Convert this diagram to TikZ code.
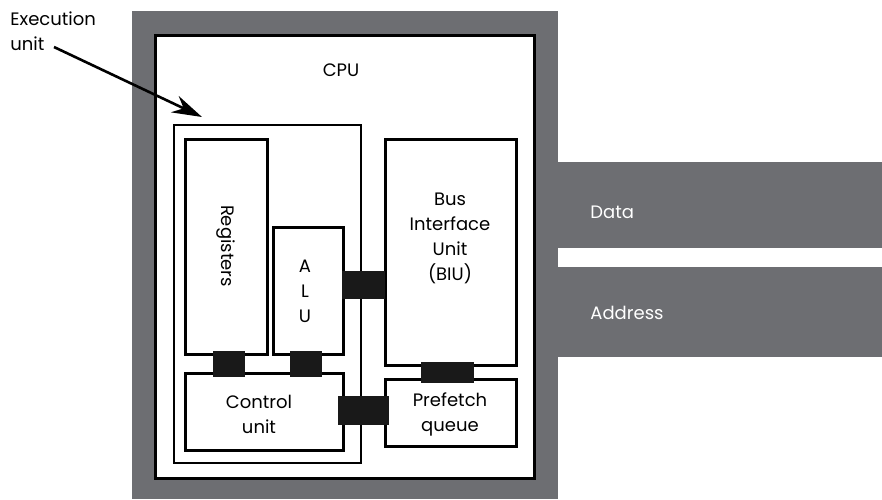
\documentclass[tikz,border=0pt]{standalone}
\usepackage{fontspec}
\setmainfont{Poppins}
\usepackage{tikz}
\usetikzlibrary{arrows.meta, positioning, fit, calc}

\definecolor{casegray}{RGB}{109,110,114}

\begin{document}
\begin{tikzpicture}[
    x=0.5pt, y=-0.5pt,
    font=\fontsize{9}{12.5}\selectfont,
    >=Stealth,
    box/.style={rectangle, draw, line width=1.5pt, fill=white, inner sep=0pt, outer sep=0pt},
    unitbox/.style={rectangle, draw, line width=1.4pt, inner sep=0pt, outer sep=0pt},
    bus/.style={rectangle, fill=black!90, inner sep=0pt, outer sep=0pt},
    lbl/.style={align=center, inner sep=0pt},
]
    \useasboundingbox (0,0) rectangle (882,499);

    % package and buses
    \fill[casegray] (132,11) rectangle (558,499);
    \fill[casegray] (558,162) rectangle (882,248);
    \fill[casegray] (558,267) rectangle (882,357);
    \node[lbl, text=white, anchor=west] (data) at (590,212) {Data};
    \node[lbl, text=white, anchor=west] (addr) at (590,313) {Address};

    % CPU
    \node[box, fit={(155,35) (534,478)}] (cpu) {};
    \node[lbl] (cpulbl) at (341,70) {CPU};

    % execution unit
    \node[unitbox, fit={(174,125) (361,463)}] (eu) {};
    \node[box, fit={(185,139) (267,354)}] (regs) {};
    \node[box, fit={(273,227) (343,354)}] (alu) {};
    \node[box, fit={(185,373) (343,450)}] (ctrl) {};

    % bus interface unit
    \node[box, fit={(385,139) (516,365)}] (biu) {};
    \node[box, fit={(385,379) (516,446)}] (pfq) {};

    \node[lbl, rotate=-90] (regslbl) at (226,246) {Registers};
    \node[lbl] (alulbl) at (305,291) {A\\L\\U};
    \node[lbl] (ctrllbl) at (259,414) {Control\\unit};
    \node[lbl] (biulbl) at (450,238) {Bus\\Interface\\Unit\\(BIU)};
    \node[lbl] (pfqlbl) at (450,414) {Prefetch\\queue};

    % internal buses
    \node[bus, fit={(342,271) (385,299)}] (aluBiu) {};
    \node[bus, fit={(213,351) (245,377)}] (regsCtrl) {};
    \node[bus, fit={(290,351) (322,377)}] (aluCtrl) {};
    \node[bus, fit={(421,362) (474,383)}] (biuPfq) {};
    \node[bus, fit={(338,396) (389,425)}] (ctrlPfq) {};

    % callout
    \node[lbl, align=left, anchor=north west] (eulbl) at (10,11) {Execution\\unit};
    \coordinate (eutail) at (54,47);
    \coordinate (eutip) at (202,117);
    \draw[line width=1.3pt, -{Stealth[length=15pt, width=9pt]}] (eutail) -- (eutip);
\end{tikzpicture}
\end{document}
